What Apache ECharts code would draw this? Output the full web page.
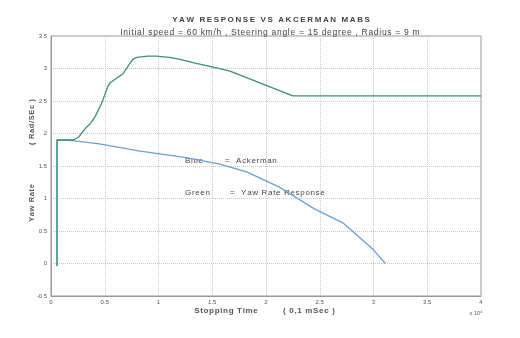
<!DOCTYPE html>
<html><head><meta charset="utf-8">
<script src="https://cdn.jsdelivr.net/npm/echarts@6/dist/echarts.min.js"></script>
<style>html,body{margin:0;padding:0;background:#fff}#c{width:520px;height:338px}</style>
</head><body><div id="c"></div>
<script>
// Stopping time (x 10^4, units of 0.1 ms) and yaw rate (rad/s)
const greenX = [0.056, 0.056, 0.21, 0.26, 0.32, 0.37, 0.41, 0.47, 0.53, 0.55, 0.67, 0.69, 0.76, 0.80, 0.90, 0.98, 1.10, 1.20, 1.35, 1.51, 1.665, 2.25, 4.0];
const greenY = [-0.04, 1.90, 1.90, 1.95, 2.08, 2.16, 2.26, 2.46, 2.73, 2.78, 2.92, 2.97, 3.14, 3.17, 3.19, 3.19, 3.17, 3.14, 3.08, 3.02, 2.96, 2.58, 2.58];
const blueX = [0.056, 0.056, 0.20, 0.45, 0.83, 1.26, 1.57, 1.82, 2.13, 2.45, 2.72, 3.00, 3.11];
const blueY = [-0.04, 1.90, 1.89, 1.84, 1.73, 1.63, 1.53, 1.41, 1.17, 0.84, 0.62, 0.21, 0.00];
const xTicks = ['0','0.5','1','1.5','2','2.5','3','3.5','4'];
const yTicks = ['-0.5','0','0.5','1','1.5','2','2.5','3','3.5'];

// letter spacing emulation with hair/thin spaces
const sp = (s, ch) => Array.from(s).join(ch);
const HAIR = '\u200A', THIN = '\u2009';

const chart = echarts.init(document.getElementById('c'));
const tickFont = {fontFamily:'Liberation Sans', fontSize:6, color:'#555'};
chart.setOption({
  animation:false,
  backgroundColor:'#fff',
  title:[
    {text:sp('YAW RESPONSE VS AKCERMAN MABS', THIN), left:266, top:11, textAlign:'center',
     textStyle:{fontFamily:'Liberation Sans', fontSize:8, fontWeight:'bold', color:'#444'}},
    {text:sp('Initial speed = 60 km/h , Steering angle = 15 degree , Radius = 9 m', HAIR), left:265, top:23, textAlign:'center',
     textStyle:{fontFamily:'Liberation Sans', fontSize:8.5, fontWeight:'normal', color:'#444'}}
  ],
  grid:{left:51, right:39, top:36, bottom:42, show:true, borderColor:'#999', borderWidth:1},
  xAxis:{type:'value', min:0, max:4, interval:0.5,
    axisLine:{show:true, onZero:false, lineStyle:{color:'#999'}}, axisTick:{show:false},
    axisLabel:Object.assign({margin:3, formatter:v=>xTicks[Math.round(v*2)]}, tickFont),
    splitLine:{show:true, lineStyle:{color:'#c8c8c8', type:'dotted', width:1}}},
  yAxis:{type:'value', min:-0.5, max:3.5, interval:0.5,
    axisLine:{show:true, lineStyle:{color:'#999'}}, axisTick:{show:false},
    axisLabel:Object.assign({margin:4, formatter:v=>yTicks[Math.round((v+0.5)*2)]}, tickFont),
    splitLine:{show:true, lineStyle:{color:'#c8c8c8', type:'dotted', width:1}}},
  series:[
    {type:'line', data:blueX.map((x,i)=>[x,blueY[i]]), showSymbol:false,
     lineStyle:{color:'#6b9fd6', width:1.3}, itemStyle:{color:'#6b9fd6'}},
    {type:'line', data:greenX.map((x,i)=>[x,greenY[i]]), showSymbol:false,
     lineStyle:{color:'#3f8f72', width:1.3}, itemStyle:{color:'#3f8f72'}}
  ],
  graphic:[
    {type:'text', x:32, y:203, rotation:Math.PI/2, style:{text:sp('Yaw Rate', HAIR), font:'bold 7.5px "Liberation Sans"', fill:'#555', align:'center', verticalAlign:'middle'}},
    {type:'text', x:32, y:122, rotation:Math.PI/2, style:{text:sp('( Rad/SEc )', HAIR), font:'bold 7.5px "Liberation Sans"', fill:'#555', align:'center', verticalAlign:'middle'}},
    {type:'text', x:226, y:311, style:{text:sp('Stopping Time', HAIR), font:'bold 8px "Liberation Sans"', fill:'#555', align:'center', verticalAlign:'middle'}},
    {type:'text', x:309, y:311, style:{text:sp('( 0,1 mSec )', HAIR), font:'bold 8px "Liberation Sans"', fill:'#555', align:'center', verticalAlign:'middle'}},
    {type:'text', x:476, y:313, style:{text:'x 10\u2074', font:'5.5px "Liberation Sans"', fill:'#555', align:'center', verticalAlign:'middle'}},
    {type:'text', x:185, y:161, style:{text:sp('Blue', HAIR), font:'8px "Liberation Sans"', fill:'#444', align:'left', verticalAlign:'middle'}},
    {type:'text', x:225, y:161, style:{text:sp('=  Ackerman', HAIR), font:'8px "Liberation Sans"', fill:'#444', align:'left', verticalAlign:'middle'}},
    {type:'text', x:185, y:193, style:{text:sp('Green', HAIR), font:'8px "Liberation Sans"', fill:'#444', align:'left', verticalAlign:'middle'}},
    {type:'text', x:230, y:193, style:{text:sp('=  Yaw Rate Response', HAIR), font:'8px "Liberation Sans"', fill:'#444', align:'left', verticalAlign:'middle'}}
  ]
});
</script></body></html>
